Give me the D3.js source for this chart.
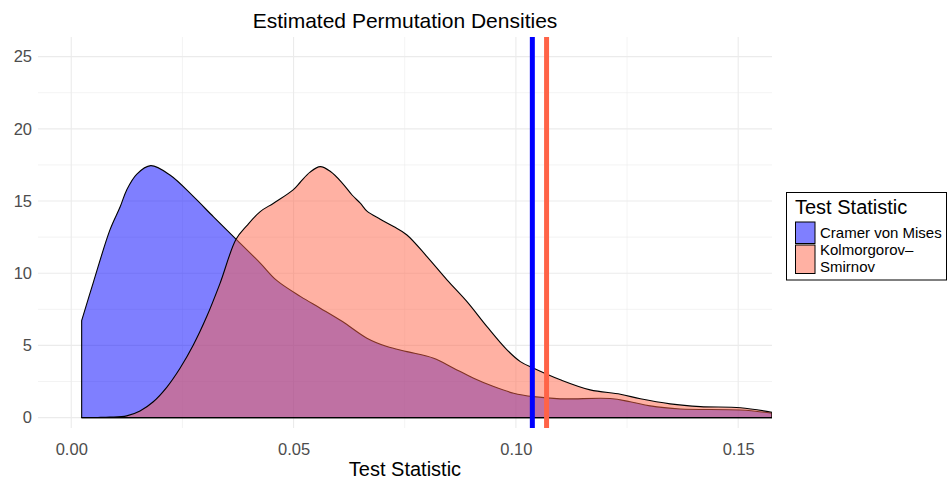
<!DOCTYPE html>
<html><head><meta charset="utf-8">
<script src="https://cdn.jsdelivr.net/npm/d3@7"></script>
<style>body{margin:0;background:#fff}svg{display:block;font-family:"Liberation Sans",Arial,Helvetica,sans-serif}</style>
</head><body><svg id="c" width="948" height="481"></svg>
<script>
// Cramer von Mises density
const cvmX = [0.00234,0.005,0.0087,0.011,0.01247,0.0147,0.01787,0.0222,0.0275,0.032,0.0371,0.0425,0.0462,0.0516,0.056,0.061,0.0665,0.071,0.0755,0.0815,0.086,0.0905,0.095,0.0995,0.104,0.110,0.1212,0.1257,0.1302,0.137,0.1505,0.1576];
const cvmY = [6.72,9.4,13.0,14.6,15.77,16.85,17.45,16.8,15.3,13.9,12.35,10.7,9.5,8.38,7.58,6.65,5.5,4.92,4.57,4.11,3.42,2.73,2.15,1.69,1.45,1.3,1.32,1.1,0.81,0.6,0.53,0.3];
// Kolmogorov-Smirnov density
const ksX = [0.00234,0.006,0.0087,0.01247,0.01546,0.01845,0.02147,0.02446,0.02745,0.03047,0.03346,0.03706,0.0395,0.0425,0.0455,0.0499,0.0515,0.0537,0.056,0.0583,0.061,0.0632,0.065,0.0665,0.0695,0.0725,0.0755,0.080,0.0845,0.089,0.0935,0.098,0.101,0.104,0.110,0.1167,0.1235,0.128,0.1347,0.1415,0.1505,0.1576];
const ksY = [0,0.01,0.03,0.12,0.46,1.1,2.1,3.42,5.03,7.0,9.3,12.35,13.3,14.27,14.85,15.77,16.3,17.0,17.38,17.04,16.23,15.4,14.85,14.3,13.74,13.23,12.65,11.15,9.54,8.03,6.3,4.69,3.88,3.42,2.62,1.92,1.62,1.3,0.95,0.76,0.68,0.37];
const observed = [0.1037, 0.1069];
const seriesNames = ["Cramer von Mises", "Kolmorgorov–Smirnov"];
const xTicks = [0, 0.05, 0.10, 0.15];
const xMinor = [0.025, 0.075, 0.125];
const yTicks = [0, 5, 10, 15, 20, 25];
const yMinor = [2.5, 7.5, 12.5, 17.5, 22.5];
const colors = ["#0000FF", "#FF6347"];

const svg = d3.select("#c");
const L = 38, R = 772, T = 37, B = 428;
const x = d3.scaleLinear().domain([-0.00748, 0.1576]).range([L, R]);
const y = d3.scaleLinear().domain([-0.72, 26.36]).range([B, T]);

const grid = svg.append("g");
grid.selectAll(".ym").data(yMinor).join("line").attr("x1",L).attr("x2",R).attr("y1",d=>y(d)).attr("y2",d=>y(d)).attr("stroke","#ebebeb").attr("stroke-width",0.6);
grid.selectAll(".xm").data(xMinor).join("line").attr("y1",T).attr("y2",B).attr("x1",d=>x(d)).attr("x2",d=>x(d)).attr("stroke","#ebebeb").attr("stroke-width",0.6);
grid.selectAll(".yM").data(yTicks).join("line").attr("x1",L).attr("x2",R).attr("y1",d=>y(d)).attr("y2",d=>y(d)).attr("stroke","#ebebeb").attr("stroke-width",1.1);
grid.selectAll(".xM").data(xTicks).join("line").attr("y1",T).attr("y2",B).attr("x1",d=>x(d)).attr("x2",d=>x(d)).attr("stroke","#ebebeb").attr("stroke-width",1.1);

const area = d3.area().x(d=>x(d[0])).y0(y(0)).y1(d=>y(Math.max(0,d[1]))).curve(d3.curveCatmullRom.alpha(0.5));
const sets = [d3.zip(cvmX,cvmY), d3.zip(ksX,ksY)];
svg.append("clipPath").attr("id","pc").append("rect").attr("x",L).attr("y",T).attr("width",R-L).attr("height",B-T);
const pg = svg.append("g").attr("clip-path","url(#pc)");
sets.forEach((s,i)=>{
  pg.append("path").attr("d", area(s)).attr("fill",colors[i]).attr("fill-opacity",0.5)
    .attr("stroke","#000").attr("stroke-width",1.1).attr("stroke-linejoin","round");
});
pg.selectAll(".vl").data(observed).join("line").attr("x1",d=>x(d)).attr("x2",d=>x(d)).attr("y1",T).attr("y2",B)
  .attr("stroke",(d,i)=>colors[i]).attr("stroke-width",5);

const xa = svg.append("g").attr("transform",`translate(0,${B})`).call(d3.axisBottom(x).tickValues(xTicks).tickFormat(d3.format(".2f")).tickSize(0).tickPadding(15));
const ya = svg.append("g").attr("transform",`translate(${L},0)`).call(d3.axisLeft(y).tickValues(yTicks).tickSize(0).tickPadding(6));
[xa,ya].forEach(a=>{a.select(".domain").remove(); a.selectAll("text").attr("fill","#4d4d4d").style("font-size","16.5px").style("font-family",'"Liberation Sans",Arial,sans-serif');});

svg.append("text").attr("x",(L+R)/2).attr("y",27.5).attr("text-anchor","middle").style("font-size","21px").attr("fill","#000").text("Estimated Permutation Densities");
svg.append("text").attr("x",(L+R)/2).attr("y",476).attr("text-anchor","middle").style("font-size","20px").attr("fill","#000").text("Test Statistic");

const lg = svg.append("g");
lg.append("rect").attr("x",786.5).attr("y",192.5).attr("width",160).attr("height",87.5).attr("fill","#fff").attr("stroke","#000").attr("stroke-width",1);
lg.append("text").attr("x",795).attr("y",213.5).style("font-size","20px").text("Test Statistic");
lg.append("rect").attr("x",795.5).attr("y",222).attr("width",19.5).attr("height",21.5).attr("fill",colors[0]).attr("fill-opacity",0.5).attr("stroke","#000");
lg.append("rect").attr("x",795.5).attr("y",245).attr("width",19.5).attr("height",28.5).attr("fill",colors[1]).attr("fill-opacity",0.5).attr("stroke","#000");
lg.append("text").attr("x",820).attr("y",237.5).style("font-size","15px").text(seriesNames[0]);
const parts = seriesNames[1].split("–");
lg.append("text").attr("x",820).attr("y",254.5).style("font-size","15px").text(parts[0]+"–");
lg.append("text").attr("x",820).attr("y",271.5).style("font-size","15px").text(parts[1]);
</script></body></html>
